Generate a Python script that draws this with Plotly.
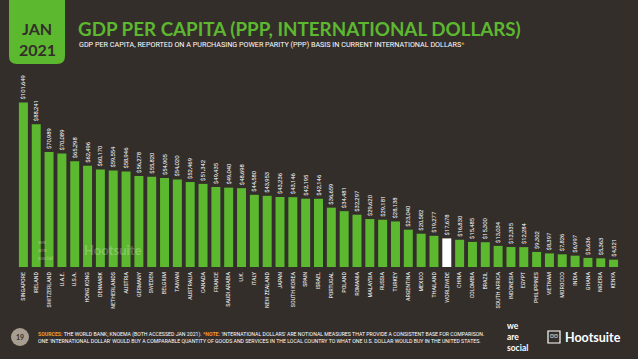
import plotly.graph_objects as go

countries = ["SINGAPORE", "IRELAND", "SWITZERLAND", "U.A.E.", "U.S.A.", "HONG KONG", "DENMARK",
             "NETHERLANDS", "AUSTRIA", "GERMANY", "SWEDEN", "BELGIUM", "TAIWAN", "AUSTRALIA",
             "CANADA", "FRANCE", "SAUDI ARABIA", "U.K.", "ITALY", "NEW ZEALAND", "JAPAN",
             "SOUTH KOREA", "SPAIN", "ISRAEL", "PORTUGAL", "POLAND", "ROMANIA", "MALAYSIA",
             "RUSSIA", "TURKEY", "ARGENTINA", "MEXICO", "THAILAND", "WORLDWIDE", "CHINA",
             "COLOMBIA", "BRAZIL", "SOUTH AFRICA", "INDONESIA", "EGYPT", "PHILIPPINES",
             "VIETNAM", "MOROCCO", "INDIA", "GHANA", "NIGERIA", "KENYA"]
gdp_ppp = [101649, 88241, 70989, 70089, 65298, 62496, 60170,
           59554, 58946, 56278, 55820, 54905, 54020, 52469,
           51342, 49435, 49040, 48698, 44580, 43953, 43236,
           43146, 42195, 42146, 36659, 34481, 32297, 29620,
           29181, 28138, 23040, 20582, 19277, 17678, 16830,
           15485, 15300, 13034, 12335, 12284, 9302,
           8397, 7826, 6997, 5636, 5363, 4521]
highlight = "WORLDWIDE"

BG = "#342e2b"
GREEN = "#5cb82f"
ORANGE = "#f39c26"
NARROW = "Liberation Sans Narrow, Roboto, sans-serif"

W_PX, H_PX = 638, 359
L, R_EDGE, T, B = 17, 620, 70, 267
PW, PH = R_EDGE - L, B - T


def px(x):
    return (x - L) / PW


def py(y):
    return (B - y) / PH


colors = ["#ffffff" if c == highlight else GREEN for c in countries]
labels = [f"${v:,}" for v in gdp_ppp]

fig = go.Figure()
fig.add_trace(go.Bar(
    x=countries, y=gdp_ppp, marker=dict(color=colors, line=dict(width=0)),
    width=0.7, text=labels, textposition="outside", textangle=-90,
    textfont=dict(size=5.9, color="#ffffff", family=NARROW),
    cliponaxis=False, constraintext="none", hoverinfo="skip"))

shapes = []
annotations = []

# header box with rounded bottom corners
x0, x1, y0, y1, r = 9, 65, -5, 64, 8
rx, ry = r / PW, r / PH
path = (f"M {px(x0)},{py(y0)} L {px(x1)},{py(y0)} L {px(x1)},{py(y1) + ry} "
        f"Q {px(x1)},{py(y1)} {px(x1) - rx},{py(y1)} L {px(x0) + rx},{py(y1)} "
        f"Q {px(x0)},{py(y1)} {px(x0)},{py(y1) + ry} Z")
shapes.append(dict(type="path", xref="paper", yref="paper", path=path,
                   fillcolor=GREEN, line=dict(width=0), layer="above"))
annotations.append(dict(xref="paper", yref="paper", x=px(37), y=py(29), text="<b>JAN</b>",
                        showarrow=False, font=dict(size=16, color="#342e2b", family="Lato, sans-serif"),
                        xanchor="center", yanchor="middle", borderpad=0))
annotations.append(dict(xref="paper", yref="paper", x=px(37), y=py(49), text="<b>2021</b>",
                        showarrow=False, font=dict(size=16, color="#342e2b", family="Lato, sans-serif"),
                        xanchor="center", yanchor="middle", borderpad=0))

# title & subtitle
annotations.append(dict(xref="paper", yref="paper", x=px(76), y=py(28),
                        text="<b>GDP PER CAPITA (PPP, INTERNATIONAL DOLLARS)</b>", showarrow=False,
                        font=dict(size=18.8, color=GREEN, family="Lato, sans-serif"),
                        xanchor="left", yanchor="middle"))
annotations.append(dict(xref="paper", yref="paper", x=px(77), y=py(45),
                        text=("GDP PER CAPITA, REPORTED ON A PURCHASING POWER PARITY (PPP) BASIS IN CURRENT "
                              f"INTERNATIONAL DOLLARS<span style='color:{ORANGE}'>*</span>"),
                        showarrow=False,
                        font=dict(size=7.2, color="#ffffff", family=NARROW),
                        xanchor="left", yanchor="middle"))

# watermark
annotations.append(dict(xref="paper", yref="paper", x=px(36), y=py(249),
                        text="<b>we<br>are<br>social</b>", showarrow=False, align="left",
                        font=dict(size=6, color="rgba(255,255,255,0.3)", family="Lato, sans-serif"),
                        xanchor="left", yanchor="middle"))
annotations.append(dict(xref="paper", yref="paper", x=px(82), y=py(250),
                        text="<b>Hootsuite</b>", showarrow=False,
                        font=dict(size=13, color="rgba(255,255,255,0.25)", family="Lato, sans-serif"),
                        xanchor="left", yanchor="middle"))

# footer
FY = 337
shapes.append(dict(type="circle", xref="paper", yref="paper",
                   x0=px(11), x1=px(29), y0=py(FY + 9), y1=py(FY - 9),
                   fillcolor="#a89e90", line=dict(width=0)))
annotations.append(dict(xref="paper", yref="paper", x=px(20), y=py(FY), text="<b>19</b>",
                        showarrow=False, font=dict(size=7, color="#342e2b", family="Lato, sans-serif"),
                        xanchor="center", yanchor="middle"))
annotations.append(dict(xref="paper", yref="paper", x=px(36), y=py(FY),
                        text=(f"<b><span style='color:{ORANGE}'>SOURCES:</span></b> THE WORLD BANK; KNOEMA (BOTH ACCESSED JAN 2021). "
                              f"<b><span style='color:{ORANGE}'>*NOTE:</span></b> 'INTERNATIONAL DOLLARS' ARE NOTIONAL MEASURES THAT PROVIDE A CONSISTENT BASE FOR COMPARISON.<br>"
                              "ONE 'INTERNATIONAL DOLLAR' WOULD BUY A COMPARABLE QUANTITY OF GOODS AND SERVICES IN THE LOCAL COUNTRY TO WHAT ONE U.S. DOLLAR WOULD BUY IN THE UNITED STATES."),
                        showarrow=False, align="left",
                        font=dict(size=5.2, color="#ffffff", family=NARROW),
                        xanchor="left", yanchor="middle"))
annotations.append(dict(xref="paper", yref="paper", x=px(506), y=py(FY),
                        text="<b>we<br>are<br>social</b>", showarrow=False, align="left",
                        font=dict(size=8.5, color="#ffffff", family="Lato, sans-serif"),
                        xanchor="left", yanchor="middle", borderpad=0))
shapes.append(dict(type="rect", xref="paper", yref="paper",
                   x0=px(548), x1=px(560), y0=py(FY + 6), y1=py(FY - 6),
                   line=dict(color="#ffffff", width=1.2), fillcolor="rgba(0,0,0,0)"))
annotations.append(dict(xref="paper", yref="paper", x=px(554), y=py(FY - 1), text="ʘʘ",
                        showarrow=False, font=dict(size=5, color="#ffffff"),
                        xanchor="center", yanchor="middle"))
annotations.append(dict(xref="paper", yref="paper", x=px(563), y=py(FY), text="<b>Hootsuite</b>",
                        showarrow=False, font=dict(size=12.5, color="#ffffff", family="Lato, sans-serif"),
                        xanchor="left", yanchor="middle"))

fig.update_layout(
    width=W_PX, height=H_PX, paper_bgcolor=BG, plot_bgcolor=BG,
    margin=dict(l=L, r=W_PX - R_EDGE, t=T, b=H_PX - B, pad=0),
    showlegend=False, bargap=0.3,
    xaxis=dict(type="category", tickangle=-90, showgrid=False, zeroline=False, showline=False,
               ticks="", ticklabelstandoff=3,
               tickfont=dict(size=5.3, color="#ffffff", family=NARROW),
               range=[-0.5, len(countries) - 0.5], fixedrange=True),
    yaxis=dict(range=[0, 121700], visible=False, showgrid=False, zeroline=False, fixedrange=True),
    shapes=shapes, annotations=annotations,
)

fig.write_html("out.html", config={"displayModeBar": False},
               post_script="document.body.style.margin='0';document.body.style.background='" + BG + "';")
